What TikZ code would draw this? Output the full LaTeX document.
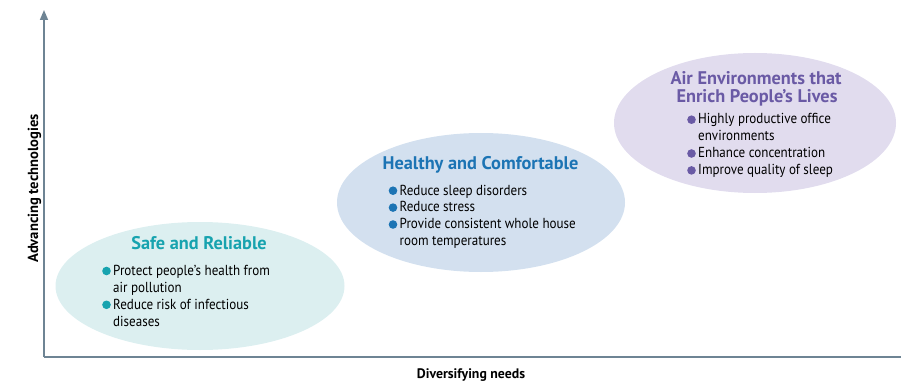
\documentclass[tikz,border=0pt]{standalone}
\usepackage{fontspec}
\setmainfont{PT Sans}[FakeStretch=0.9]
\newfontfamily\widefont{PT Sans}
\usetikzlibrary{arrows.meta,shapes.geometric}
\definecolor{axisc}{HTML}{6E8494}
\definecolor{safefill}{HTML}{DCEFF0}
\definecolor{safec}{HTML}{17A3AF}
\definecolor{healfill}{HTML}{D3E0EF}
\definecolor{healc}{HTML}{1C74B4}
\definecolor{airfill}{HTML}{E1DCEE}
\definecolor{airc}{HTML}{6A5AA5}
\tikzset{
  x=1pt, y=1pt,
  blob/.style={ellipse, draw=none, inner sep=0pt},
  ttl/.style={font=\widefont\fontsize{18.3}{19}\selectfont\bfseries, anchor=base, align=center},
  lst/.style={font=\fontsize{14.5}{16.9}\selectfont, anchor=base west, inner sep=0pt},
  axlab/.style={font=\widefont\fontsize{13.8}{15}\selectfont\bfseries, anchor=base},
  dot/.style={circle, inner sep=0pt, minimum size=8.6pt, fill=#1},
}
\begin{document}
\begin{tikzpicture}
\useasboundingbox (0,0) rectangle (901,-382);
% ellipses
\node[blob, fill=safefill, minimum width=289, minimum height=128] (safe) at (200,-286) {};
\node[blob, fill=healfill, minimum width=288, minimum height=139] (heal) at (481,-202.5) {};
\node[blob, fill=airfill, minimum width=282, minimum height=140] (air) at (755,-123) {};
% axes
\coordinate (o) at (44,-357);
\coordinate (ytop) at (44,-10);
\coordinate (xend) at (901,-357);
\draw[axisc, line width=1.6] (o) -- (xend);
\draw[axisc, line width=1.6, -{Triangle[length=10,width=8]}] (o) -- (ytop);
\node[axlab, rotate=90, font=\widefont\fontsize{14.6}{15}\selectfont\bfseries] (ylab) at (38,-188.5) {Advancing technologies};
\node[axlab] (xlab) at (471,-378) {Diversifying needs};
% titles
\node[ttl, text=safec] (tsafe) at (199,-249) {Safe and Reliable};
\node[ttl, text=healc] (theal) at (480.5,-170) {Healthy and Comfortable};
\node[ttl, text=airc] (tair1) at (756,-84.3) {Air Environments that};
\node[ttl, text=airc] (tair2) at (757,-102.3) {Enrich People’s Lives};
% lists
\node[lst] (lsafe) at (113,-275.5) {\begin{tabular}[t]{@{}l@{}}
Protect people’s health from\\
air pollution\\
Reduce risk of infectious\\
diseases
\end{tabular}};
\node[lst] (lheal) at (399.5,-195) {\begin{tabular}[t]{@{}l@{}}
Reduce sleep disorders\\
Reduce stress\\
Provide consistent whole house\\
room temperatures
\end{tabular}};
\node[lst] (lair) at (698,-124) {\begin{tabular}[t]{@{}l@{}}
Highly productive office\\
environments\\
Enhance concentration\\
Improve quality of sleep
\end{tabular}};
% bullets
\foreach \dy in {0,33.8} \node[dot=safec] at (106.5,-271-\dy) {};
\foreach \dy in {0,16.9,33.8} \node[dot=healc] at (393,-190.7-\dy) {};
\foreach \dy in {0,33.8,50.7} \node[dot=airc] at (691.5,-119.7-\dy) {};
\end{tikzpicture}
\end{document}
